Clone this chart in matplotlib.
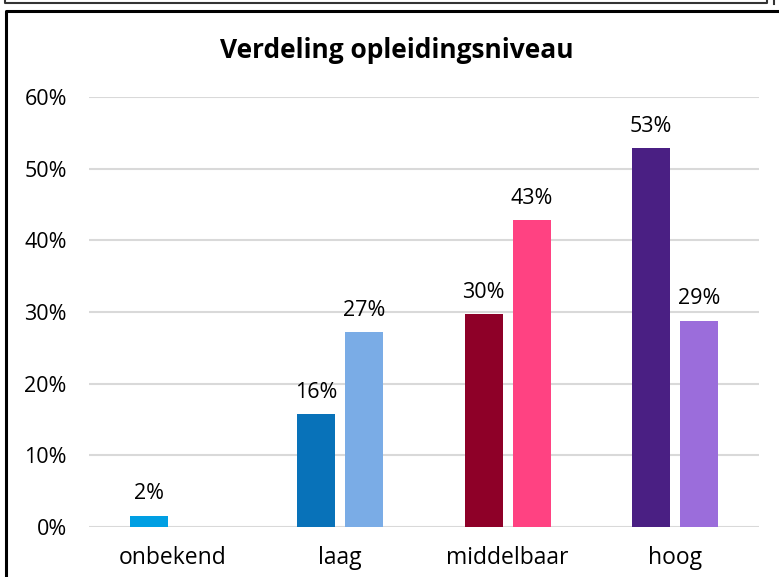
import matplotlib.pyplot as plt
from matplotlib.lines import Line2D
import numpy as np

categories = ["onbekend", "laag", "middelbaar", "hoog"]
# first and second bar per category (onbekend has only one bar)
values_a = [0.016, 0.157, 0.297, 0.529]
values_b = [np.nan, 0.272, 0.428, 0.288]
labels_a = ["2%", "16%", "30%", "53%"]
labels_b = ["", "27%", "43%", "29%"]
colors_a = ["#009FE3", "#0872B9", "#8E0028", "#4A1F83"]
colors_b = ["#FFFFFF", "#7AACE6", "#FF4282", "#9B6DDB"]
yticks = [0, 0.1, 0.2, 0.3, 0.4, 0.5, 0.6]

plt.rcParams['font.family'] = ['Open Sans', 'DejaVu Sans']

fig = plt.figure(figsize=(7.79, 5.77), dpi=100)
W, H = 779, 577
ax = fig.add_axes([89 / W, 1 - 527 / H, 670 / W, 430 / H])

x = np.arange(len(categories))
width = 0.227
off = 0.143
ax.bar(x - off, values_a, width, color=colors_a, zorder=3)
ax.bar(x + off, values_b, width, color=colors_b, zorder=3)

for i in range(len(categories)):
    ax.annotate(labels_a[i], (x[i] - off, values_a[i]), xytext=(0, 8),
                textcoords="offset points", ha="center", va="bottom", fontsize=15.5)
    if labels_b[i]:
        ax.annotate(labels_b[i], (x[i] + off, values_b[i]), xytext=(0, 8),
                    textcoords="offset points", ha="center", va="bottom", fontsize=15.5)

ax.set_xlim(-0.5, len(categories) - 0.5)
ax.set_ylim(0, 0.6)
ax.set_yticks(yticks)
ax.set_yticklabels([f"{int(round(t * 100))}%" for t in yticks], fontsize=15.5)
ax.set_xticks(x)
ax.set_xticklabels(categories, fontsize=16.5)
ax.tick_params(length=0)
ax.tick_params(axis="y", pad=16)
ax.tick_params(axis="x", pad=14)
ax.grid(axis="y", color="#D9D9D9", linewidth=1.5, zorder=0)
for s in ax.spines.values():
    s.set_visible(False)

fig.text(397 / W, 1 - 50 / H, "Verdeling opleidingsniveau", ha="center", va="center",
         fontsize=19, fontweight="bold")

# borders around the chart (screenshot frame)
def px_line(xs, ys, lw=2.0, color="black"):
    fig.add_artist(Line2D([v / W for v in xs], [1 - v / H for v in ys],
                          transform=fig.transFigure, color=color, linewidth=lw))

px_line([5, 5, 767, 767], [0, 3, 3, 0], lw=1.5, color="#333333")
px_line([774, 774], [0, 4], lw=1.5, color="#333333")
px_line([6, 6, 779], [577, 11, 11], lw=2.2)

fig.savefig("out.png", dpi=100)
